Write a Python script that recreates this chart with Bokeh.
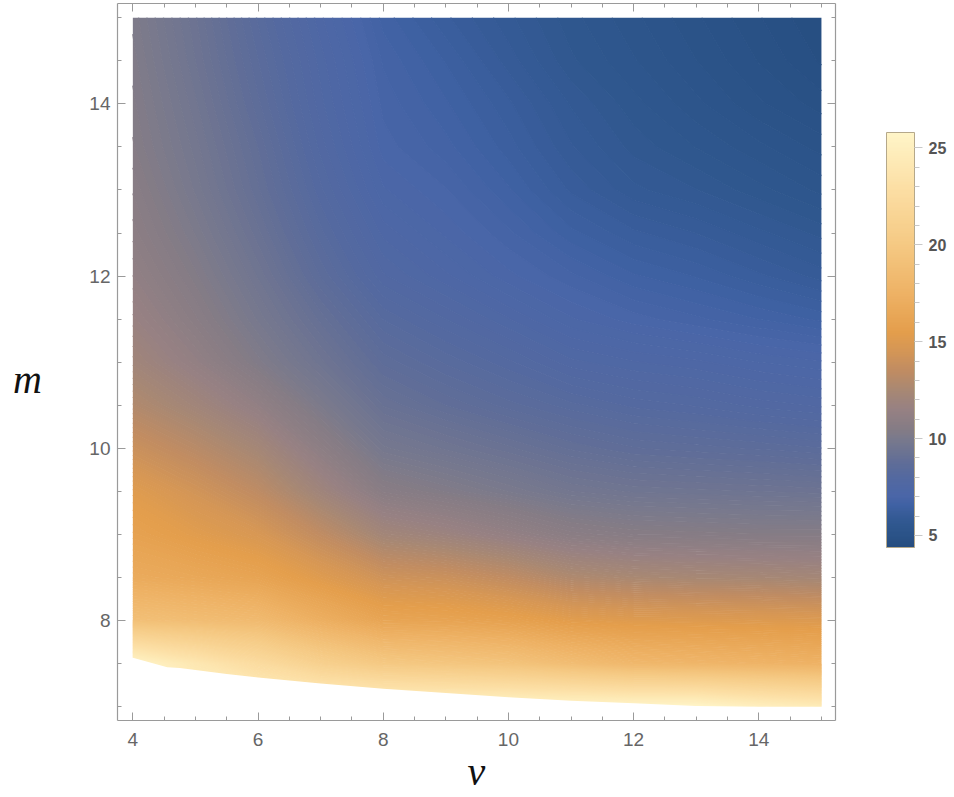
import numpy as np
from bokeh.plotting import figure
from bokeh.models import (LinearColorMapper, ColorBar, FixedTicker, LinearAxis, Label,
                          Range1d, CustomJSTickFormatter)
from bokeh.embed import file_html
from bokeh.resources import INLINE

nan = float("nan")

# grid of the density plot: columns at v = 4..15, rows m = 7.0 .. 15.0 (step 0.5)
v_grid = [4, 5, 6, 7, 8, 9, 10, 11, 12, 13, 14, 15]
m_grid = [7.0, 7.5, 8.0, 8.5, 9.0, 9.5, 10.0, 10.5, 11.0, 11.5, 12.0, 12.5, 13.0, 13.5, 14.0, 14.5, 15.0]

col_v04 = [nan, nan, 19.0, 16.8, 15.9, 15.2, 14.0, 12.9, 12.1, 11.6, 11.2, 10.9, 10.7, 10.5, 10.4, 10.3, 10.2]
col_v05 = [nan, 24.0, 18.7, 16.5, 15.3, 14.35, 13.2, 12.1, 11.25, 10.75, 10.4, 10.1, 9.85, 9.7, 9.55, 9.4, 9.3]
col_v06 = [nan, 22.5, 18.4, 16.1, 14.7, 13.4, 12.3, 11.2, 10.3, 9.85, 9.5, 9.2, 8.95, 8.8, 8.6, 8.45, 8.3]
col_v07 = [nan, 21.0, 17.2, 15.15, 13.5, 12.0, 10.95, 10.1, 9.45, 9.0, 8.55, 8.25, 8.0, 7.8, 7.65, 7.55, 7.4]
col_v08 = [nan, 20.0, 16.2, 14.2, 12.2, 10.7, 9.8, 9.15, 8.65, 8.2, 7.75, 7.45, 7.15, 6.95, 6.85, 6.75, 6.6]
col_v09 = [nan, 19.7, 16.1, 14.0, 11.8, 10.35, 9.5, 8.8, 8.3, 7.85, 7.4, 7.1, 6.9, 6.7, 6.55, 6.4, 6.2]
col_v10 = [nan, 19.4, 15.85, 13.5, 11.3, 10.0, 9.2, 8.5, 8.0, 7.5, 7.05, 6.8, 6.55, 6.35, 6.2, 6.0, 5.85]
col_v11 = [nan, 18.7, 15.35, 12.8, 10.8, 9.65, 8.9, 8.25, 7.65, 7.15, 6.8, 6.45, 6.15, 5.95, 5.8, 5.6, 5.5]
col_v12 = [nan, 18.1, 15.15, 12.55, 10.6, 9.5, 8.7, 8.05, 7.5, 6.95, 6.55, 6.2, 5.85, 5.65, 5.5, 5.35, 5.25]
col_v13 = [nan, 17.9, 15.1, 12.45, 10.55, 9.45, 8.62, 7.95, 7.4, 6.8, 6.4, 6.05, 5.7, 5.45, 5.25, 5.1, 5.0]
col_v14 = [25.0, 17.7, 15.05, 12.4, 10.5, 9.4, 8.55, 7.8, 7.25, 6.65, 6.2, 5.85, 5.5, 5.25, 5.0, 4.85, 4.75]
col_v15 = [24.5, 17.5, 15.0, 12.3, 10.5, 9.35, 8.45, 7.7, 7.15, 6.5, 6.0, 5.65, 5.3, 5.05, 4.8, 4.6, 4.5]

# lower edge of the plotted region m_min(v)
bnd_v = [4.0, 4.55, 4.75, 5.5, 6.0, 7.0, 8.0, 9.0, 10.0, 11.0, 12.0, 13.0, 14.0, 15.0]
bnd_m = [7.57, 7.46, 7.45, 7.38, 7.34, 7.27, 7.21, 7.16, 7.11, 7.07, 7.04, 7.01, 7.0, 7.0]

x_ticks = [4, 6, 8, 10, 12, 14]
y_ticks = [8, 10, 12, 14]
cbar_ticks = [5, 10, 15, 20, 25]
z_low, z_high = 4.38, 25.8

# colour scale (Mathematica-like default density gradient)
anchors = [(4.38, "#264d80"), (5.0, "#2b5388"), (5.5, "#2f578e"), (6.0, "#365b97"),
           (6.5, "#3f61a3"), (7.0, "#4a66a8"), (8.0, "#5469a0"), (8.7, "#5f6d98"),
           (9.3, "#6c7392"), (10.0, "#7a7a8c"), (10.5, "#857c85"), (11.5, "#978183"),
           (12.5, "#a88873"), (13.5, "#c08c62"), (14.5, "#d49656"), (15.5, "#e49e4c"),
           (17.5, "#eeb265"), (20.0, "#f5c983"), (23.0, "#fcdfa5"), (25.8, "#fff5c8")]


def hex2rgb(h):
    return [int(h[i:i + 2], 16) for i in (1, 3, 5)]


a_vals = np.array([a[0] for a in anchors])
a_rgb = np.array([hex2rgb(a[1]) for a in anchors], dtype=float)


def color_at(lv):
    rgb = [np.interp(lv, a_vals, a_rgb[:, k]) for k in range(3)]
    return "#%02x%02x%02x" % tuple(int(round(c)) for c in rgb)


palette = [color_at(lv) for lv in np.linspace(z_low, z_high, 256)]
mapper = LinearColorMapper(palette=palette, low=z_low, high=z_high)

columns = [col_v04, col_v05, col_v06, col_v07, col_v08, col_v09,
           col_v10, col_v11, col_v12, col_v13, col_v14, col_v15]
z = np.array(columns, dtype=float).T  # rows: m, cols: v
# outside the domain (masked white below) the field is taken at the colour-bar top
z_fill = np.where(np.isnan(z), z_high, z)

p = figure(width=954, height=797, output_backend="svg", toolbar_location=None,
           x_range=Range1d(3.755, 15.225), y_range=Range1d(6.841, 15.165),
           x_axis_location=None, y_axis_location=None,
           min_border_left=117, min_border_right=119, min_border_top=3, min_border_bottom=77)
p.outline_line_color = None
p.xgrid.visible = False
p.ygrid.visible = False
p.background_fill_color = "white"
p.border_fill_color = "white"

levels = np.linspace(z_low, z_high + 0.1, 181)
mids = 0.5 * (levels[:-1] + levels[1:])
p.contour(v_grid, m_grid, z_fill, levels,
          fill_color=[color_at(lv) for lv in mids],
          line_color=[color_at(lv) for lv in levels], line_width=1.3)

# white outside the domain
xs = [v_grid[0] - 1] + bnd_v + [v_grid[-1] + 1, v_grid[-1] + 1, v_grid[0] - 1]
ys = [bnd_m[0]] + bnd_m + [bnd_m[-1], m_grid[0] - 1, m_grid[0] - 1]
p.patch(xs, ys, fill_color="white", line_color=None)

x_minor = [4 + 0.5 * i for i in range(23)]
y_minor = [7 + 0.5 * i for i in range(17)]


def style_axis(ax, show_labels):
    ax.axis_line_color = "#9a9a9a"
    ax.axis_line_width = 1.2
    ax.major_tick_line_color = "#9a9a9a"
    ax.minor_tick_line_color = "#9a9a9a"
    ax.major_tick_in = 8
    ax.major_tick_out = 0
    ax.minor_tick_in = 4
    ax.minor_tick_out = 0
    ax.major_label_text_font = "Liberation Sans"
    ax.major_label_text_font_size = "19px"
    ax.major_label_text_color = "#666666"
    if not show_labels:
        ax.formatter = CustomJSTickFormatter(code="return ''")
        ax.major_label_standoff = 0
    else:
        ax.major_label_standoff = 12


xb = LinearAxis(ticker=FixedTicker(ticks=x_ticks, minor_ticks=x_minor))
style_axis(xb, True)
xb.axis_label = "v"
xb.axis_label_standoff = 0
xb.axis_label_text_font = "Liberation Serif"
xb.axis_label_text_font_style = "italic"
xb.axis_label_text_font_size = "40px"
xb.axis_label_text_color = "#111111"
xt = LinearAxis(ticker=FixedTicker(ticks=x_ticks, minor_ticks=x_minor))
style_axis(xt, False)
yl = LinearAxis(ticker=FixedTicker(ticks=y_ticks, minor_ticks=y_minor))
style_axis(yl, True)
yl.major_label_standoff = 7
yr = LinearAxis(ticker=FixedTicker(ticks=y_ticks, minor_ticks=y_minor))
style_axis(yr, False)
p.add_layout(xb, "below")
p.add_layout(xt, "above")
p.add_layout(yl, "left")
p.add_layout(yr, "right")

cb = ColorBar(color_mapper=mapper, width=28, height=415, location=(51, 173), padding=0, margin=0,
              ticker=FixedTicker(ticks=cbar_ticks, minor_ticks=list(range(5, 26))),
              major_tick_in=0, major_tick_out=8, minor_tick_in=0, minor_tick_out=5,
              major_tick_line_color="#c8c8c8", minor_tick_line_color="#c8c8c8",
              major_label_text_font="Liberation Sans", major_label_text_font_style="bold",
              major_label_text_font_size="16px", major_label_text_color="#555555",
              label_standoff=6, bar_line_color="#b5a88a", bar_line_width=1,
              border_line_color=None, background_fill_color=None)
p.add_layout(cb, "right")

lab_m = Label(x=-30, y=341, x_units="screen", y_units="screen", text="m", text_align="center",
              text_baseline="alphabetic", text_font="Liberation Serif", text_font_style="italic",
              text_font_size="40px", text_color="#111111")
p.add_layout(lab_m, "left")

open("out.html", "w").write(file_html(p, INLINE))
